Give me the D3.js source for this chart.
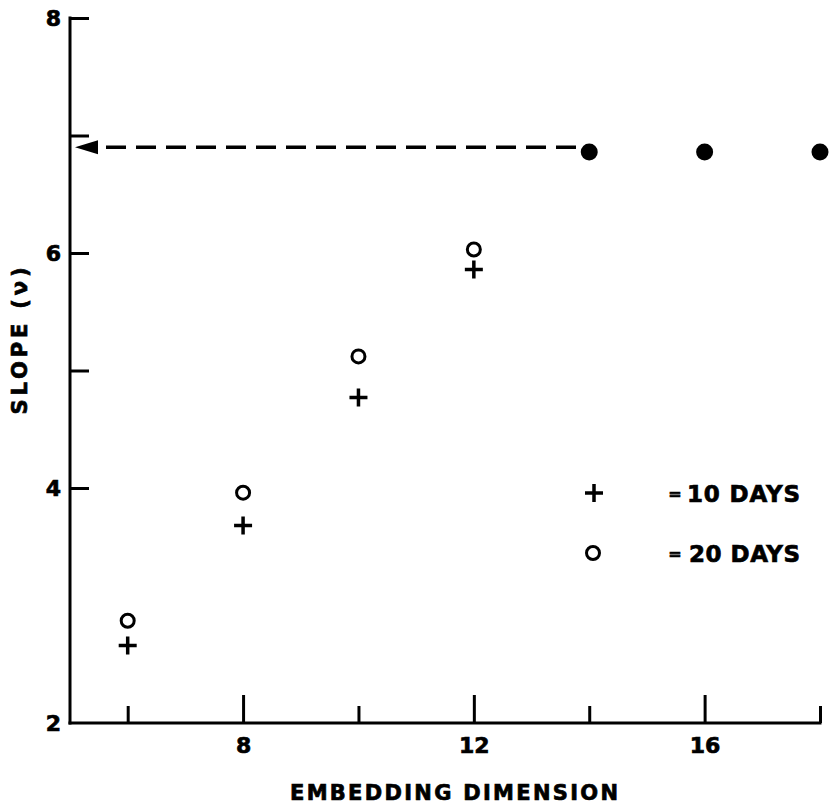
<!DOCTYPE html>
<html>
<head>
<meta charset="utf-8">
<script src="https://cdn.jsdelivr.net/npm/d3@7"></script>
<style>
  html, body { margin: 0; padding: 0; background: #fff; }
  svg { display: block; }
  text { font-family: "DejaVu Sans", sans-serif; font-weight: bold; fill: #000; stroke: #000; stroke-width: 0.7px; }
</style>
</head>
<body>
<svg id="chart" width="831" height="811"></svg>
<script>
// ---- data ----
const dimensions10 = [6, 8, 10, 12];
const slopes10 = [2.66, 3.68, 4.77, 5.86];
const dimensions20 = [6, 8, 10, 12];
const slopes20 = [2.87, 3.96, 5.12, 6.03];
const dimensionsSat = [14, 16, 18];
const slopesSat = [6.86, 6.86, 6.86];
const saturationLevel = [6.9];
const xMajorTicks = [8, 12, 16];
const xMinorTicks = [6, 10, 14, 18];
const yTickMarks = [4, 5, 6, 7, 8];
const yTickLabels = [2, 4, 6, 8];
const legendLabels = ["10 DAYS", "20 DAYS"];

// ---- scales ----
const svg = d3.select("#chart");
const x = d3.scaleLinear().domain([5, 18]).range([70, 820]);
const y = d3.scaleLinear().domain([2, 8]).range([723, 18]);

const axisStroke = 3;

function styleAxis(g) {
  g.select(".domain").remove();
  g.selectAll(".tick line").attr("stroke", "#000").attr("stroke-width", axisStroke);
  g.selectAll(".tick text").attr("fill", "#000")
    .style("font-family", '"DejaVu Sans", sans-serif').style("font-weight", "bold");
}

// axis lines
svg.append("line").attr("x1", x(5)).attr("x2", x(5)).attr("y1", y(2) + 1.5).attr("y2", y(8) - 1.5)
  .attr("stroke", "#000").attr("stroke-width", axisStroke);
svg.append("line").attr("x1", x(5) - 1.5).attr("x2", x(18) + 1.5).attr("y1", y(2)).attr("y2", y(2))
  .attr("stroke", "#000").attr("stroke-width", axisStroke);

// y tick marks (pointing inward)
svg.append("g").attr("transform", `translate(${x(5)},0)`)
  .call(d3.axisRight(y).tickValues(yTickMarks).tickSize(19).tickFormat(""))
  .call(styleAxis);
// y tick labels
svg.append("g").attr("transform", `translate(${x(5)},0)`)
  .call(d3.axisLeft(y).tickValues(yTickLabels).tickSize(0).tickPadding(9).tickFormat(d3.format("d")))
  .call(styleAxis)
  .call(g => g.selectAll(".tick text").attr("font-size", 22).attr("dy", "0.36em"));

// x tick marks (pointing up)
svg.append("g").attr("transform", `translate(0,${y(2)})`)
  .call(d3.axisTop(x).tickValues(xMajorTicks).tickSize(28).tickFormat(""))
  .call(styleAxis);
svg.append("g").attr("transform", `translate(0,${y(2)})`)
  .call(d3.axisTop(x).tickValues(xMinorTicks).tickSize(17).tickFormat(""))
  .call(styleAxis);
// x tick labels
svg.append("g").attr("transform", `translate(0,${y(2)})`)
  .call(d3.axisBottom(x).tickValues(xMajorTicks).tickSize(0).tickPadding(14).tickFormat(d3.format("d")))
  .call(styleAxis)
  .call(g => g.selectAll(".tick text").attr("font-size", 22));

// axis titles
svg.append("text")
  .attr("x", 454).attr("y", 800)
  .attr("text-anchor", "middle")
  .attr("font-size", 21)
  .attr("textLength", 328).attr("lengthAdjust", "spacing")
  .text("EMBEDDING DIMENSION");

svg.append("text")
  .attr("transform", "translate(27,341) rotate(-90)")
  .attr("text-anchor", "middle")
  .attr("font-size", 21)
  .attr("textLength", 147).attr("lengthAdjust", "spacing")
  .text("SLOPE (ν)");

// saturation dashed arrow
const arrowY = y(saturationLevel[0]);
svg.append("line")
  .attr("x1", x(5) + 36).attr("x2", x(dimensionsSat[0]))
  .attr("y1", arrowY).attr("y2", arrowY)
  .attr("stroke", "#000").attr("stroke-width", 3.5)
  .attr("stroke-dasharray", "20,10");
svg.append("path")
  .attr("d", `M${x(5) + 5},${arrowY} L${x(5) + 28},${arrowY - 7} L${x(5) + 28},${arrowY + 7} Z`)
  .attr("fill", "#000");

// filled (saturated) points
svg.append("g").selectAll("circle")
  .data(dimensionsSat.map((d, i) => [d, slopesSat[i]]))
  .join("circle")
  .attr("cx", d => x(d[0])).attr("cy", d => y(d[1]))
  .attr("r", 8.5).attr("fill", "#000");

// 20 days: open circles
svg.append("g").selectAll("circle")
  .data(dimensions20.map((d, i) => [d, slopes20[i]]))
  .join("circle")
  .attr("cx", d => x(d[0])).attr("cy", d => y(d[1]))
  .attr("r", 6.5).attr("fill", "none").attr("stroke", "#000").attr("stroke-width", 3);

// 10 days: plus signs
const plusPath = "M-9,0 H9 M0,-9 V9";
svg.append("g").selectAll("path")
  .data(dimensions10.map((d, i) => [d, slopes10[i]]))
  .join("path")
  .attr("transform", d => `translate(${x(d[0])},${y(d[1])})`)
  .attr("d", plusPath)
  .attr("stroke", "#000").attr("stroke-width", 3.5).attr("fill", "none");

// legend
const legend = svg.append("g");
legend.append("path")
  .attr("transform", "translate(594,493)")
  .attr("d", plusPath)
  .attr("stroke", "#000").attr("stroke-width", 3.5).attr("fill", "none");
legend.append("circle")
  .attr("cx", 593).attr("cy", 553).attr("r", 6.5)
  .attr("fill", "none").attr("stroke", "#000").attr("stroke-width", 3);
legendLabels.forEach((lab, i) => {
  const cy = 493 + i * 60;
  legend.append("text")
    .attr("x", 675).attr("y", cy + 6)
    .attr("text-anchor", "middle")
    .attr("font-size", 16)
    .attr("stroke-width", 1.5)
    .text("=");
  legend.append("text")
    .attr("x", i === 0 ? 687 : 689).attr("y", cy + 9)
    .attr("font-size", 23)
    .attr("textLength", i === 0 ? 113 : 111).attr("lengthAdjust", "spacing")
    .text(lab);
});
</script>
</body>
</html>
